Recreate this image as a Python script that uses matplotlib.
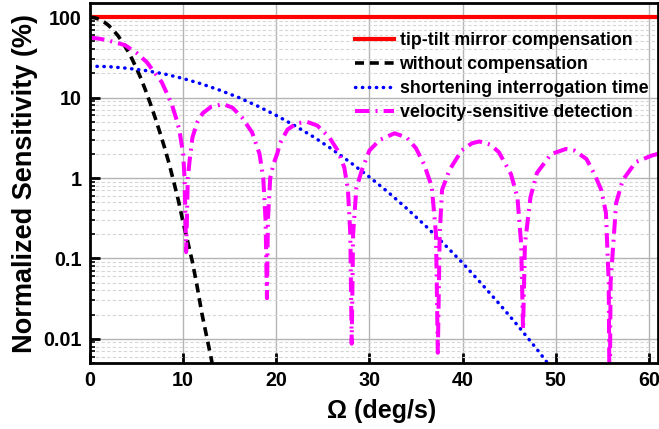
import matplotlib
matplotlib.use("Agg")
import matplotlib.pyplot as plt
from matplotlib.ticker import FixedLocator, FixedFormatter, LogLocator, NullFormatter

plt.rcParams['font.family'] = ['Liberation Sans', 'DejaVu Sans']
plt.rcParams['font.weight'] = 'bold'

# tip-tilt mirror compensation
x_tilt = [0, 61]
y_tilt = [100, 100]

# without compensation
x_nocomp = [0, 0.5, 1, 1.5, 2, 2.5, 3, 3.5, 4, 4.5, 5, 5.5, 6, 6.5, 7, 7.5, 8, 8.5,
            9, 9.5, 10, 10.5, 11, 11.5, 12, 12.5, 13, 13.5]
y_nocomp = [100, 98.5, 94.3, 87.5, 79, 69, 59, 48.5, 39, 30.5, 23, 17, 12, 8.3, 5.6,
            3.7, 2.4, 1.5, 0.89, 0.52, 0.28, 0.16, 0.09, 0.045, 0.021, 0.011, 0.0058, 0.0029]

# shortening interrogation time
x_short = [0, 2, 4, 6, 8, 10, 12, 14, 16, 18, 20, 22, 24, 26, 28, 30, 32, 34, 36,
           38, 40, 42, 44, 46, 48, 50]
y_short = [24.6, 24.3, 23.2, 21.7, 19.7, 17.3, 14.8, 12.3, 10.0, 7.85, 6.01, 4.47,
           3.25, 2.28, 1.55, 1.03, 0.668, 0.419, 0.256, 0.152, 0.088, 0.049, 0.0268,
           0.0143, 0.0074, 0.0037]

# velocity-sensitive detection
x_vel = [0, 1, 1.8, 3.75, 5, 6.1, 7.0, 7.7, 8.3, 8.8, 9.3, 9.6, 10.0, 10.15, 10.25,
         10.32, 10.4, 10.5, 10.7, 11.0, 11.5, 12.1, 13.0, 14.3, 15.3, 16.3, 17.4,
         18.2, 18.6, 18.85, 19.0, 19.1, 19.35, 19.7, 20.1, 20.4, 21.2, 22.2, 23.3,
         24.4, 25.7, 26.6, 27.3, 27.7, 27.95, 28.1, 28.25, 28.6, 29.2, 30.0, 31.1,
         32.7, 34.0, 35.0, 35.9, 36.7, 37.15, 37.35, 37.55, 37.8, 38.6, 39.9, 41.0,
         41.8, 43.0, 43.9, 45.2, 45.9, 46.3, 46.5, 46.7, 47.3, 48.0, 49.5, 51.1,
         52.0, 53.3, 54.2, 54.9, 55.4, 55.7, 55.8, 55.9, 56.5, 57.2, 58.6, 60.3, 61]
y_vel = [56, 54, 52, 45, 36, 27.6, 20, 15.6, 11, 8.1, 5.3, 3.9, 2.0, 1.0, 0.3,
         0.12, 0.3, 1.0, 1.67, 3.2, 4.9, 6.4, 7.7, 8.3, 7.5, 5.7, 3.7,
         2.0, 1.0, 0.3, 0.032, 0.3, 1.0, 1.5, 2.0, 2.7, 4.0, 4.8, 5.0,
         4.5, 3.2, 2.2, 1.36, 0.71, 0.2, 0.0087, 0.2, 0.75, 1.26, 2.2, 2.97,
         3.6, 3.2, 2.35, 1.45, 0.78, 0.2, 0.0067, 0.2, 0.71, 1.26, 2.2, 2.7,
         2.85, 2.6, 2.1, 1.12, 0.57, 0.15, 0.013, 0.15, 0.58, 1.16, 1.98, 2.3,
         2.2, 1.73, 1.1, 0.71, 0.37, 0.05, 0.001, 0.05, 0.49, 0.94, 1.58, 1.9, 2.0]

y_ticks = [0.01, 0.1, 1, 10, 100]
y_tick_labels = ['0.01', '0.1', '1', '10', '100']
x_ticks = [0, 10, 20, 30, 40, 50, 60]

fig = plt.figure(figsize=(6.59, 4.29), dpi=100)
ax = fig.add_axes([0.1366, 0.1538, 0.862, 0.839])

ax.plot(x_tilt, y_tilt, color='#ff0000', lw=3, label='tip-tilt mirror compensation')
ax.plot(x_nocomp, y_nocomp, color='black', lw=2.6, linestyle=(0, (2.5, 1.6)),
        label='without compensation')
ax.plot(x_short, y_short, color='#0000ff', lw=2.5, linestyle=(0, (0.1, 1.9)),
        dash_capstyle='round', label='shortening interrogation time')
ax.plot(x_vel, y_vel, color='#ff00ff', lw=2.9, linestyle=(0, (3.6, 1.5, 0.5, 1.5)),
        label='velocity-sensitive detection')

ax.set_yscale('log')
ax.set_xlim(0, 61)
ax.set_ylim(0.005, 150)
ax.yaxis.set_major_locator(FixedLocator(y_ticks))
ax.yaxis.set_major_formatter(FixedFormatter(y_tick_labels))
ax.yaxis.set_minor_locator(LogLocator(base=10, subs=range(2, 10)))
ax.yaxis.set_minor_formatter(NullFormatter())
ax.set_xticks(x_ticks)

ax.grid(True, which='major', color='#b4b4b4', lw=1)
ax.grid(True, which='minor', axis='y', color='#d6d6d6', lw=0.8, linestyle=(0, (3, 2)))
ax.set_axisbelow(True)

ax.tick_params(which='major', direction='in', length=7, width=2, labelsize=14.2, pad=6)
ax.tick_params(which='minor', direction='in', length=3.5, width=1.2)
for sp in ax.spines.values():
    sp.set_linewidth(2)

ax.set_xlabel('Ω (deg/s)', fontsize=18, fontweight='bold', labelpad=6)
ax.xaxis.label.set_x(0.514)
ax.set_ylabel('Normalized Sensitivity (%)', fontsize=19.5, fontweight='bold', labelpad=4)

ax.legend(loc='upper right', bbox_to_anchor=(0.995, 0.94), frameon=False, fontsize=12.8,
          handlelength=2.2, handletextpad=0.3, labelspacing=0.4, borderaxespad=0)

fig.savefig('out.png', dpi=100)
